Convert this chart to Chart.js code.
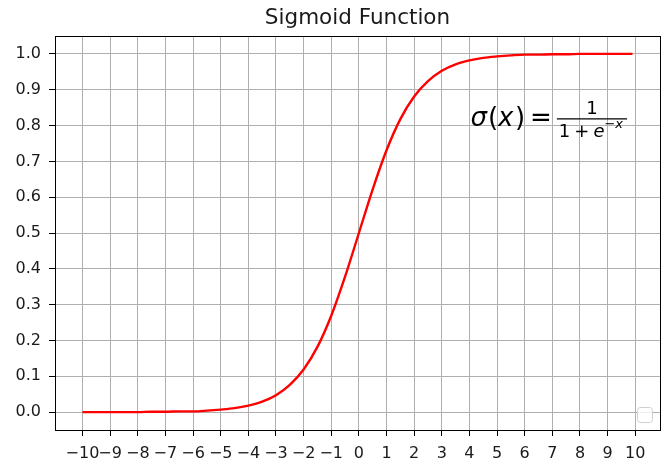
<!DOCTYPE html>
<html>
<head>
<meta charset="utf-8">
<script src="https://cdn.jsdelivr.net/npm/chart.js@4.4.1/dist/chart.umd.min.js"></script>
<style>
  body { margin: 0; background: #fff; }
</style>
</head>
<body>
<canvas id="sigmoidChart" width="668" height="461"></canvas>
<script>
// sigmoid curve, values
var xValues = [-10, -9.5, -9, -8.5, -8, -7.5, -7, -6.5, -6, -5.5, -5, -4.5, -4, -3.5, -3, -2.5, -2, -1.5, -1, -0.5,
               0, 0.5, 1, 1.5, 2, 2.5, 3, 3.5, 4, 4.5, 5, 5.5, 6, 6.5, 7, 7.5, 8, 8.5, 9, 9.5, 9.9];
var yValues = [0.000, 0.000, 0.000, 0.000, 0.000, 0.001, 0.001, 0.002, 0.002, 0.004, 0.007, 0.011, 0.018, 0.029,
               0.047, 0.076, 0.119, 0.182, 0.269, 0.378, 0.500, 0.622, 0.731, 0.818, 0.881, 0.924, 0.953, 0.971,
               0.982, 0.989, 0.993, 0.996, 0.998, 0.998, 0.999, 0.999, 1.000, 1.000, 1.000, 1.000, 1.000];
var xTicks = [-10, -9, -8, -7, -6, -5, -4, -3, -2, -1, 0, 1, 2, 3, 4, 5, 6, 7, 8, 9, 10];
var yTicks = [0, 0.1, 0.2, 0.3, 0.4, 0.5, 0.6, 0.7, 0.8, 0.9, 1.0];
var title = 'Sigmoid Function';

const FONT = '"DejaVu Sans"';

function minusLabel(v) {
  return v < 0 ? '\u2212' + Math.abs(v) : String(v);
}

// title over the axes, box around the axes, the formula and the empty legend frame
const extras = {
  id: 'extras',
  afterDraw(chart) {
    const ctx = chart.ctx;
    const a = chart.chartArea;
    ctx.save();

    // title centred on the axes, like matplotlib
    ctx.fillStyle = '#1a1a1a';
    ctx.font = '21.5px ' + FONT;
    ctx.textAlign = 'center';
    ctx.textBaseline = 'middle';
    ctx.fillText(title, (a.left + a.right) / 2, 18);

    // formula at data point (4, 0.8)
    const ax = chart.scales.x.getPixelForValue(4);
    const ay = chart.scales.y.getPixelForValue(0.8);
    ctx.fillStyle = '#000';
    ctx.textBaseline = 'alphabetic';
    ctx.textAlign = 'left';
    let cx = ax + 1;
    function put(t, font, y) {
      ctx.font = font;
      ctx.fillText(t, cx, y);
      cx += ctx.measureText(t).width;
    }
    function w(t, font) { ctx.font = font; return ctx.measureText(t).width; }
    const it = 'italic 26px ' + FONT, up = '26px ' + FONT;
    put('\u03c3', it, ay);
    cx += 1;
    put('(', up, ay);
    put('x', it, ay);
    cx += 1.5;
    put(')', up, ay);
    cx += 5;
    put('=', up, ay);
    cx += 5;

    const fs = '18px ' + FONT, fi = 'italic 18px ' + FONT, ss = '13px ' + FONT, si = 'italic 13px ' + FONT;
    const sp = 4;
    const denW = w('1', fs) + sp + w('+', fs) + sp + w('e', fi) + w('\u2212', ss) + w('x', si);
    const fx = cx;
    ctx.strokeStyle = '#000';
    ctx.lineWidth = 1.3;
    ctx.beginPath();
    ctx.moveTo(fx, ay - 6.7);
    ctx.lineTo(fx + denW + 6, ay - 6.7);
    ctx.stroke();
    ctx.font = fs;
    ctx.fillText('1', fx + 3 + (denW - w('1', fs)) / 2, ay - 11.5);
    cx = fx + 2;
    put('1', fs, ay + 11.5);
    cx += sp;
    put('+', fs, ay + 11.5);
    cx += sp;
    put('e', fi, ay + 11.5);
    put('\u2212', ss, ay + 2.5);
    put('x', si, ay + 2.5);

    // empty legend frame, lower right
    const bw = 15, bh = 15;
    const bx = a.right - 8 - bw, by = a.bottom - 8 - bh;
    ctx.beginPath();
    ctx.roundRect(bx + 0.5, by + 0.5, bw, bh, 3);
    ctx.fillStyle = 'rgba(255,255,255,0.8)';
    ctx.fill();
    ctx.strokeStyle = '#d0d0d0';
    ctx.lineWidth = 1;
    ctx.stroke();

    // axes spines
    ctx.strokeStyle = '#000';
    ctx.lineWidth = 1;
    ctx.strokeRect(Math.round(a.left) + 0.5, Math.round(a.top) + 0.5,
                   Math.round(a.right - a.left), Math.round(a.bottom - a.top));
    ctx.restore();
  }
};

new Chart('sigmoidChart', {
  type: 'line',
  data: {
    datasets: [{
      data: xValues.map((x, i) => ({ x: x, y: yValues[i] })),
      borderColor: '#ff0000',
      borderWidth: 2.4,
      pointRadius: 0,
      cubicInterpolationMode: 'monotone',
      fill: false
    }]
  },
  options: {
    responsive: false,
    animation: false,
    devicePixelRatio: 1,
    layout: { padding: { top: 36, right: 8, bottom: 0, left: 0 } },
    plugins: {
      legend: { display: false },
      tooltip: { enabled: false },
      title: { display: false }
    },
    scales: {
      x: {
        type: 'linear',
        min: -10.995,
        max: 10.895,
        afterBuildTicks: s => { s.ticks = xTicks.map(v => ({ value: v })); },
        afterFit: s => { s.height = 31; },
        ticks: {
          autoSkip: false, maxRotation: 0, minRotation: 0,
          color: '#1a1a1a',
          font: { family: FONT, size: 16 },
          padding: 8,
          callback: v => minusLabel(v)
        },
        grid: { color: '#b0b0b0', lineWidth: 1, tickColor: '#000', tickLength: 6 },
        border: { color: '#000', width: 1 }
      },
      y: {
        min: -0.05,
        max: 1.05,
        afterBuildTicks: s => { s.ticks = yTicks.map(v => ({ value: v })); },
        afterFit: s => { s.width = 55; },
        ticks: {
          autoSkip: false,
          color: '#1a1a1a',
          font: { family: FONT, size: 16 },
          padding: 8,
          callback: v => v.toFixed(1)
        },
        grid: { color: '#b0b0b0', lineWidth: 1, tickColor: '#000', tickLength: 6 },
        border: { color: '#000', width: 1 }
      }
    }
  },
  plugins: [extras]
});
</script>
</body>
</html>
